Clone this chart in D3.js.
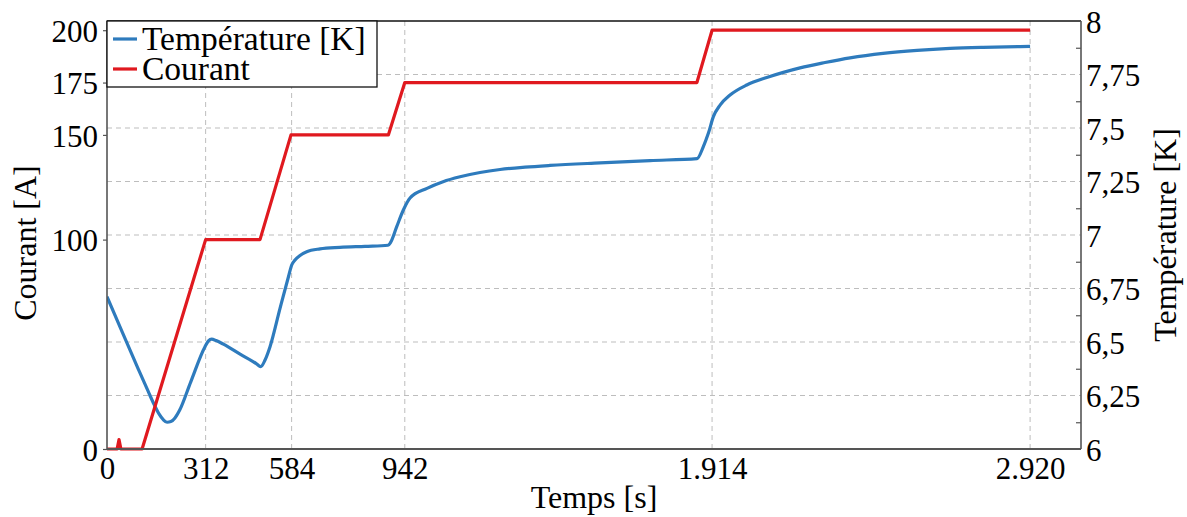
<!DOCTYPE html>
<html><head><meta charset="utf-8">
<script src="https://cdn.jsdelivr.net/npm/d3@7"></script>
<style>
html,body{margin:0;padding:0;background:#fff;}
svg{display:block;}
svg text{font-family:"Liberation Serif","DejaVu Serif","Noto Serif","Times New Roman",Tinos,Times,serif !important;fill:#000;}
</style></head>
<body>
<svg id="chart" width="1187" height="517"></svg>
<script>
// ---- data ----
const timeTemp = [0, 50, 100, 130, 150, 165, 178, 190, 202, 215, 230, 265, 310, 321, 331, 345, 368, 421, 473, 486.2, 500, 515.7, 547.3, 574, 584.3, 594.7, 610.6, 631.8, 673.8, 737, 816, 889, 897, 916.5, 937.4, 958.6, 1012.3, 1063, 1116.7, 1180, 1243.3, 1322.4, 1401.5, 1559.6, 1717.8, 1866.5, 1886.4, 1902.2, 1918.1, 1939.3, 1970.9, 2023.7, 2087, 2139.5, 2192.3, 2271.4, 2350.5, 2454.9, 2562.5, 2666.9, 2771.3, 2920];
const temperature = [6.712, 6.540, 6.370, 6.270, 6.205, 6.163, 6.137, 6.125, 6.128, 6.145, 6.182, 6.314, 6.478, 6.505, 6.513, 6.507, 6.490, 6.443, 6.398, 6.385, 6.416, 6.478, 6.657, 6.805, 6.860, 6.883, 6.904, 6.922, 6.935, 6.942, 6.947, 6.952, 6.965, 7.039, 7.117, 7.173, 7.218, 7.249, 7.272, 7.292, 7.306, 7.317, 7.325, 7.337, 7.348, 7.357, 7.413, 7.475, 7.553, 7.607, 7.654, 7.701, 7.736, 7.760, 7.781, 7.806, 7.828, 7.849, 7.863, 7.872, 7.877, 7.881];
const timeCurrent = [0, 32, 38, 44, 111, 312, 484, 582, 890, 942, 1866, 1914, 2920];
const current = [0, 0, 4.5, 0, 0, 100, 100, 150, 150, 175, 175, 200, 200];
const xTicks = [0, 312, 584, 942, 1914, 2920];
const leftTicks = [0, 100, 150, 175, 200];
const rightTicks = [6, 6.25, 6.5, 6.75, 7, 7.25, 7.5, 7.75, 8];
const rightMinor = [6.125, 6.375, 6.625, 6.875, 7.125, 7.375, 7.625, 7.875];
const legendLabels = ["Température [K]", "Courant"];

// ---- layout ----
const L = 107, R = 1081, T = 21, B = 449;
const blue = "#2e7bbd", red = "#e0191f";
const FONT = '"Liberation Serif","DejaVu Serif","Noto Serif","Times New Roman",Tinos,Times,serif';
const svg = d3.select("#chart").attr("font-family", FONT);
const loc = d3.formatLocale({decimal: ",", thousands: ".", grouping: [3], currency: ["", ""]});
const fx = loc.format(",d"), fr = loc.format(".2~f");

const x = d3.scaleLinear().domain([0, 3081]).range([L, R]);
const yL = d3.scaleLinear().domain([0, 204.4]).range([B, T]);
const yR = d3.scaleLinear().domain([6, 8]).range([B, T]);

// grid
const grid = svg.append("g").attr("stroke", "#bdbdbd").attr("stroke-width", 1).attr("stroke-dasharray", "5,4");
grid.selectAll("line.v").data(xTicks.slice(1)).join("line").attr("class", "v")
  .attr("x1", d => x(d)).attr("x2", d => x(d)).attr("y1", T).attr("y2", B);
grid.selectAll("line.h").data(rightTicks.slice(1, -1)).join("line").attr("class", "h")
  .attr("x1", L).attr("x2", R).attr("y1", d => yR(d)).attr("y2", d => yR(d));

// clip
svg.append("clipPath").attr("id", "clip").append("rect").attr("x", L).attr("y", T - 3).attr("width", R - L).attr("height", B - T + 6);

const lineT = d3.line().x((d, i) => x(timeTemp[i])).y(d => yR(d)).curve(d3.curveMonotoneX);
const lineI = d3.line().x((d, i) => x(timeCurrent[i])).y(d => yL(d));
const plot = svg.append("g").attr("clip-path", "url(#clip)");
plot.append("path").datum(temperature).attr("d", lineT).attr("fill", "none").attr("stroke", blue).attr("stroke-width", 3.2).attr("stroke-linejoin", "round");
plot.append("path").datum(current).attr("d", lineI).attr("fill", "none").attr("stroke", red).attr("stroke-width", 3.2).attr("stroke-linejoin", "round");

// axes
const axCol = "#555";
const gL = svg.append("g").attr("transform", `translate(${L},0)`)
  .call(d3.axisLeft(yL).tickValues(leftTicks).tickSize(4).tickPadding(5).tickFormat(d3.format("d")));
const gR = svg.append("g").attr("transform", `translate(${R},0)`)
  .call(d3.axisRight(yR).tickValues(rightTicks).tickSize(0).tickPadding(5).tickFormat(fr));
const gRm = svg.append("g").attr("transform", `translate(${R},0)`)
  .call(d3.axisLeft(yR).tickValues(rightMinor).tickSize(5).tickFormat(""));
const gB = svg.append("g").attr("transform", `translate(0,${B})`)
  .call(d3.axisBottom(x).tickValues(xTicks).tickSize(0).tickPadding(8).tickFormat(fx));
[gL, gR, gRm, gB].forEach(g => {
  g.attr("font-family", FONT).attr("font-size", 31);
  g.select(".domain").remove();
  g.selectAll("line").attr("stroke", axCol).attr("stroke-width", 1.2);
  g.selectAll("text").attr("fill", "#000");
});
gL.selectAll("text").attr("dy", "0.36em");
gR.selectAll("text").attr("dy", "0.36em");
gB.selectAll("text").attr("dy", "0.72em");

// frame
svg.append("line").attr("x1", L).attr("x2", R).attr("y1", T).attr("y2", T).attr("stroke", "#111").attr("stroke-width", 1.3);
svg.append("line").attr("x1", L).attr("x2", L).attr("y1", T).attr("y2", B).attr("stroke", axCol).attr("stroke-width", 1.6);
svg.append("line").attr("x1", R).attr("x2", R).attr("y1", T).attr("y2", B).attr("stroke", axCol).attr("stroke-width", 1.6);
svg.append("line").attr("x1", L).attr("x2", R).attr("y1", B).attr("y2", B).attr("stroke", axCol).attr("stroke-width", 1.8);

// titles
svg.append("text").attr("x", (L + R) / 2).attr("y", 508).attr("text-anchor", "middle").attr("font-size", 32).text("Temps [s]");
svg.append("text").attr("transform", `translate(36,243) rotate(-90)`).attr("text-anchor", "middle").attr("font-size", 32).text("Courant [A]");
svg.append("text").attr("transform", `translate(1176,${(T + B) / 2}) rotate(-90)`).attr("text-anchor", "middle").attr("font-size", 32).text("Température [K]");

// legend
const lg = svg.append("g");
lg.append("rect").attr("x", L).attr("y", T).attr("width", 270).attr("height", 66).attr("fill", "#fff").attr("stroke", "#111").attr("stroke-width", 1.3);
const legColors = [blue, red];
legendLabels.forEach((lab, i) => {
  const cy = T + 18 + i * 30;
  lg.append("line").attr("x1", L + 6).attr("x2", L + 30).attr("y1", cy).attr("y2", cy).attr("stroke", legColors[i]).attr("stroke-width", 3.2);
  lg.append("text").attr("x", L + 35).attr("y", cy + 11).attr("font-size", 33.5).text(lab);
});
</script>
</body></html>
